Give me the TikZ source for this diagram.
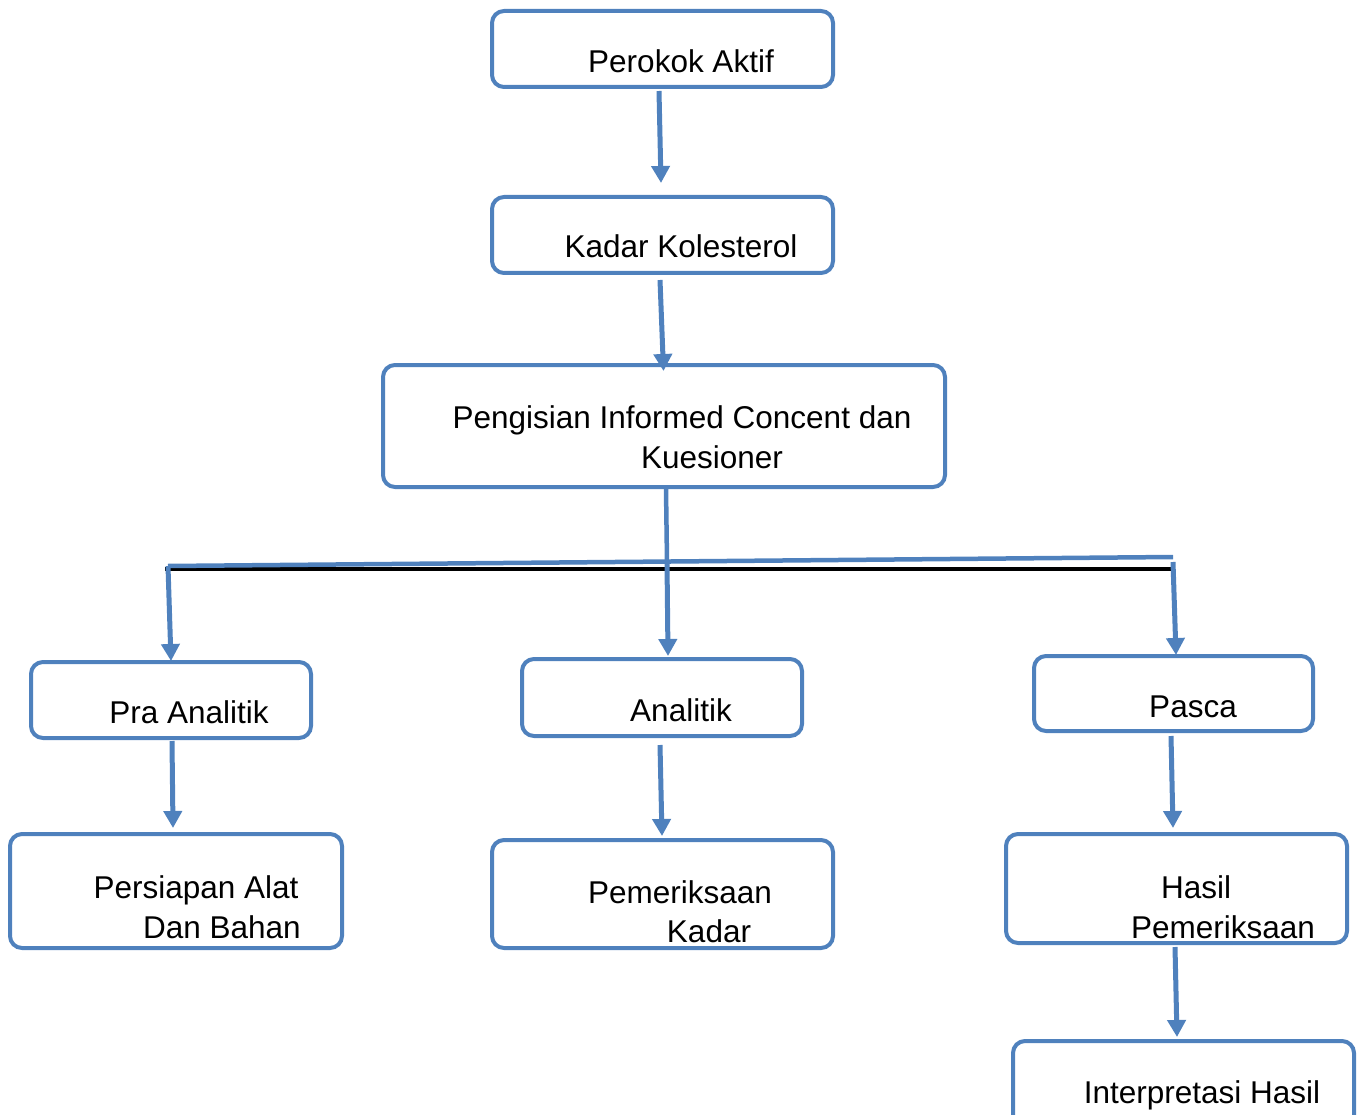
\documentclass[tikz,border=0pt]{standalone}
\usepackage{fontspec}
\setmainfont{Liberation Sans}
\usetikzlibrary{arrows.meta}
\definecolor{obl}{RGB}{79,129,189}
\begin{document}
\begin{tikzpicture}[x=1pt,y=-1pt,
  box/.style={draw=obl,line width=4pt,rounded corners=12pt,inner sep=0pt},
  lbl/.style={anchor=base,inner sep=0pt,font=\fontsize{31.5}{38}\selectfont},
  arr/.style={draw=obl,line width=5pt,-{Triangle[width=18pt,length=17pt]}},
  ln/.style={draw=obl,line width=4.5pt}]
\useasboundingbox (0,0) rectangle (1362,1115);
\begin{scope}
\clip (0,0) rectangle (1362,1115);
% boxes
\node[box,minimum width=341pt,minimum height=76pt] (b1) at (662.5,49) {};
\node[box,minimum width=341pt,minimum height=76pt] (b2) at (662.5,235) {};
\node[box,minimum width=562pt,minimum height=122pt] (b3) at (664,426) {};
\node[box,minimum width=280pt,minimum height=76pt] (b4) at (171,700) {};
\node[box,minimum width=280pt,minimum height=77pt] (b5) at (662,697.5) {};
\node[box,minimum width=279pt,minimum height=75pt] (b6) at (1173.5,693.5) {};
\node[box,minimum width=332pt,minimum height=114pt] (b7) at (176,891) {};
\node[box,minimum width=341pt,minimum height=108pt] (b8) at (662.5,894) {};
\node[box,minimum width=341pt,minimum height=109pt] (b9) at (1176.5,888.5) {};
\node[box,minimum width=341pt,minimum height=110pt] (b10) at (1183.5,1096) {};
\end{scope}
% labels
\node[lbl] (t1) at (681,73) {Perokok Aktif};
\node[lbl] (t2) at (681,258) {Kadar Kolesterol};
\node[lbl] (t3a) at (682,428) {Pengisian Informed Concent dan};
\node[lbl] (t3b) at (712,468) {Kuesioner};
\node[lbl] (t4) at (189,723) {Pra Analitik};
\node[lbl] (t5) at (681,721) {Analitik};
\node[lbl] (t6) at (1193,717) {Pasca};
\node[lbl] (t7a) at (196,898) {Persiapan Alat};
\node[lbl] (t7b) at (222,938) {Dan Bahan};
\node[lbl] (t8a) at (680,903) {Pemeriksaan};
\node[lbl] (t8b) at (709,942) {Kadar};
\node[lbl] (t9a) at (1196,898) {Hasil};
\node[lbl] (t9b) at (1223,938) {Pemeriksaan};
\node[lbl] (t10) at (1202,1103) {Interpretasi Hasil};
% junction coordinates
\coordinate (jl) at (168,566);
\coordinate (jm) at (667,562);
\coordinate (jr) at (1173,557);
\coordinate (kl) at (165,569);
\coordinate (kr) at (1173,569);
\coordinate (dr) at (1173,562);
% black bar and blue bar
\draw[line width=4.5pt,black] (kl) -- (kr);
\draw[ln] (jl) -- (jr);
% arrows
\draw[arr] ([xshift=-3.5pt,yshift=-2pt]b1.south) -- ([xshift=-1.5pt,yshift=12pt]b2.north);
\draw[arr] ([xshift=-2.5pt,yshift=-5pt]b2.south) -- ([xshift=-0.5pt,yshift=-8pt]b3.north);
\draw[ln] ([xshift=2pt]b3.south) -- (jm);
\draw[arr] (jm) -- ([xshift=6pt,yshift=1pt]b5.north);
\draw[arr] (jl) -- ([xshift=0pt,yshift=-1pt]b4.north);
\draw[arr] (dr) -- ([xshift=2.5pt,yshift=-1pt]b6.north);
\draw[arr] ([xshift=1pt,yshift=-1pt]b4.south) -- ([xshift=-3pt,yshift=4pt]b7.north);
\draw[arr] ([xshift=-2pt,yshift=-7pt]b5.south) -- ([xshift=-0.5pt,yshift=2pt]b8.north);
\draw[arr] ([xshift=-2.5pt,yshift=-3pt]b6.south) -- ([xshift=-3.5pt,yshift=4pt]b9.north);
\draw[arr] ([xshift=-1.5pt,yshift=-2pt]b9.south) -- ([xshift=-6.5pt,yshift=2pt]b10.north);
\end{tikzpicture}
\end{document}
